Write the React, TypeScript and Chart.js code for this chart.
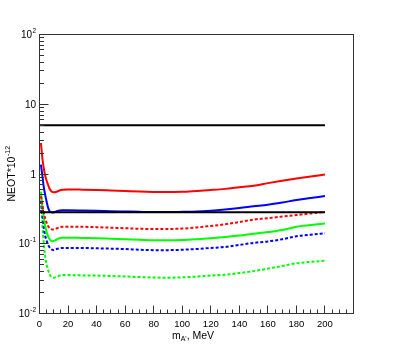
import React, { useEffect, useRef } from "react";
import { Chart, registerables } from "chart.js";

Chart.register(...registerables);

// m_A' in MeV
const massX = [1, 2, 3, 4, 5, 6, 7, 8, 9, 10, 12, 14, 16, 20, 30, 40, 50, 60, 70, 80, 90, 100, 110, 120, 130, 140, 150, 160, 170, 180, 190, 200];

const redSolid = [2.78, 1.7, 1.2, 0.95, 0.8, 0.7, 0.62, 0.575, 0.553, 0.548, 0.558, 0.58, 0.594, 0.6, 0.596, 0.59, 0.58, 0.57, 0.56, 0.553, 0.55, 0.556, 0.572, 0.59, 0.612, 0.645, 0.68, 0.74, 0.8, 0.86, 0.92, 0.98];
const blueSolid = [1.36, 0.95, 0.65, 0.5, 0.4, 0.33, 0.295, 0.283, 0.28, 0.282, 0.292, 0.3, 0.302, 0.302, 0.3, 0.297, 0.293, 0.29, 0.287, 0.285, 0.285, 0.287, 0.29, 0.298, 0.31, 0.325, 0.344, 0.363, 0.39, 0.423, 0.452, 0.484];
const redDotted = [0.48, 0.36, 0.28, 0.23, 0.2, 0.18, 0.168, 0.162, 0.16, 0.16, 0.166, 0.172, 0.175, 0.176, 0.175, 0.173, 0.17, 0.167, 0.164, 0.163, 0.163, 0.165, 0.171, 0.18, 0.19, 0.205, 0.222, 0.233, 0.245, 0.258, 0.272, 0.286];
const greenSolid = [0.56, 0.35, 0.24, 0.18, 0.148, 0.128, 0.117, 0.111, 0.109, 0.11, 0.115, 0.12, 0.122, 0.122, 0.121, 0.12, 0.118, 0.116, 0.114, 0.112, 0.112, 0.113, 0.116, 0.12, 0.125, 0.131, 0.139, 0.147, 0.157, 0.175, 0.185, 0.195];
const blueDotted = [0.41, 0.26, 0.17, 0.13, 0.11, 0.097, 0.089, 0.084, 0.082, 0.081, 0.084, 0.086, 0.087, 0.087, 0.087, 0.086, 0.085, 0.084, 0.082, 0.081, 0.081, 0.082, 0.084, 0.087, 0.09, 0.096, 0.103, 0.108, 0.116, 0.128, 0.135, 0.141];
const greenDotted = [0.5, 0.2, 0.1, 0.065, 0.05, 0.042, 0.037, 0.034, 0.033, 0.0325, 0.0335, 0.035, 0.0355, 0.0355, 0.0352, 0.035, 0.0345, 0.034, 0.0333, 0.0328, 0.0325, 0.033, 0.0338, 0.035, 0.036, 0.038, 0.0405, 0.044, 0.048, 0.0525, 0.055, 0.057];

const blackX = [0, 200];
const blackUpper = [5, 5];
const blackLower = [0.283, 0.283];

const xTickLabels = [0, 20, 40, 60, 80, 100, 120, 140, 160, 180, 200];
const yTickValues = [0.01, 0.1, 1, 10, 100];
const yLabelBase = ["10", "10", "1", "10", "10"];
const yLabelExp = ["-2", "-1", "", "", "2"];

const FONT = '"Liberation Sans", Arial, sans-serif';

const pts = (xs: number[], ys: number[]) => xs.map((x, i) => ({ x, y: ys[i] }));

const rootAxes = {
  id: "rootAxes",
  afterDraw(chart: any) {
    const { ctx, chartArea: a, scales } = chart;
    const xs = scales.x;
    const ys = scales.y;
    ctx.save();
    ctx.strokeStyle = "#333";
    ctx.lineWidth = 1;
    ctx.strokeRect(a.left, a.top, a.right - a.left, a.bottom - a.top);
    ctx.beginPath();
    for (let v = 0; v <= 220; v += 5) {
      const px = Math.floor(xs.getPixelForValue(v)) + 0.5;
      const len = v % 20 === 0 ? 8 : 4;
      ctx.moveTo(px, a.bottom);
      ctx.lineTo(px, a.bottom - len);
    }
    for (let e = -2; e <= 1; e++) {
      for (let k = 1; k <= 9; k++) {
        const v = k * Math.pow(10, e);
        const py = Math.floor(ys.getPixelForValue(v)) + 0.5;
        const len = k === 1 ? 9 : 4.5;
        ctx.moveTo(a.left, py);
        ctx.lineTo(a.left + len, py);
      }
    }
    ctx.stroke();

    ctx.fillStyle = "#000";
    // x labels
    ctx.font = `9.5px ${FONT}`;
    ctx.textAlign = "center";
    ctx.textBaseline = "alphabetic";
    xTickLabels.forEach((v) => {
      ctx.fillText(String(v), xs.getPixelForValue(v), a.bottom + 13);
    });
    // y labels
    yTickValues.forEach((v, i) => {
      const py = ys.getPixelForValue(v);
      const rightEdge = 36;
      ctx.textAlign = "right";
      ctx.font = `6.5px ${FONT}`;
      const supW = yLabelExp[i] ? ctx.measureText(yLabelExp[i]).width : 0;
      if (yLabelExp[i]) ctx.fillText(yLabelExp[i], rightEdge, py - 1.5);
      ctx.font = `10px ${FONT}`;
      ctx.fillText(yLabelBase[i], rightEdge - supW - (supW ? 0.3 : 0), py + 3.6);
    });

    // y title
    ctx.save();
    ctx.translate(15, 174);
    ctx.rotate(-Math.PI / 2);
    ctx.textAlign = "left";
    ctx.font = `10.5px ${FONT}`;
    const mainT = "NEOT*10";
    const wMain = ctx.measureText(mainT).width;
    ctx.font = `7px ${FONT}`;
    const supT = "-12";
    const wSup = ctx.measureText(supT).width;
    const start = -(wMain + wSup) / 2;
    ctx.font = `10.5px ${FONT}`;
    ctx.fillText(mainT, start, 0);
    ctx.font = `7px ${FONT}`;
    ctx.fillText(supT, start + wMain + 0.5, -5);
    ctx.restore();

    // x title
    ctx.textAlign = "left";
    ctx.font = `10.5px ${FONT}`;
    const t1 = "m";
    const t3 = ", MeV";
    const w1 = ctx.measureText(t1).width;
    const w3 = ctx.measureText(t3).width;
    ctx.font = `7px ${FONT}`;
    const t2 = "A'";
    const w2 = ctx.measureText(t2).width;
    const total = w1 + w2 + w3;
    const cx = 193;
    let x0 = cx - total / 2;
    const base = 338.5;
    ctx.font = `10.5px ${FONT}`;
    ctx.fillText(t1, x0, base);
    x0 += w1;
    ctx.font = `7px ${FONT}`;
    ctx.fillText(t2, x0, base + 2.5);
    x0 += w2;
    ctx.font = `10.5px ${FONT}`;
    ctx.fillText(t3, x0, base);

    ctx.restore();
  },
};

export default function App() {
  const ref = useRef<HTMLCanvasElement | null>(null);

  useEffect(() => {
    if (!ref.current) return;
    const common = { pointRadius: 0, borderWidth: 2, fill: false, cubicInterpolationMode: "monotone" as const, borderCapStyle: "butt" as const };
    const chart = new Chart(ref.current, {
      type: "line",
      data: {
        datasets: [
          { ...common, label: "black upper", data: pts(blackX, blackUpper), borderColor: "#000000", order: 0 },
          { ...common, label: "black lower", data: pts(blackX, blackLower), borderColor: "#000000", order: 0 },
          { ...common, label: "red solid", data: pts(massX, redSolid), borderColor: "#ff0000", order: 1 },
          { ...common, label: "blue solid", data: pts(massX, blueSolid), borderColor: "#0000ff", order: 1 },
          { ...common, label: "red dotted", data: pts(massX, redDotted), borderColor: "#ff0000", borderDash: [3, 2], order: 1 },
          { ...common, label: "green solid", data: pts(massX, greenSolid), borderColor: "#00ff00", order: 1 },
          { ...common, label: "blue dotted", data: pts(massX, blueDotted), borderColor: "#0000ff", borderDash: [3, 2], order: 1 },
          { ...common, label: "green dotted", data: pts(massX, greenDotted), borderColor: "#00ff00", borderDash: [3, 2], order: 1 },
        ],
      },
      options: {
        responsive: false,
        animation: false,
        layout: { padding: { left: 39.5, right: 39.5, top: 34.5, bottom: 35.5 } },
        plugins: { legend: { display: false }, tooltip: { enabled: false } },
        scales: {
          x: { type: "linear", min: 0, max: 220, display: false },
          y: { type: "logarithmic", min: 0.01, max: 100, display: false },
        },
      },
      plugins: [rootAxes],
    });
    return () => chart.destroy();
  }, []);

  return (
    <div style={{ position: "fixed", left: 0, top: 0, width: 393, height: 349, background: "#fff" }}>
      <canvas ref={ref} width={393} height={349} style={{ display: "block" }} />
    </div>
  );
}
